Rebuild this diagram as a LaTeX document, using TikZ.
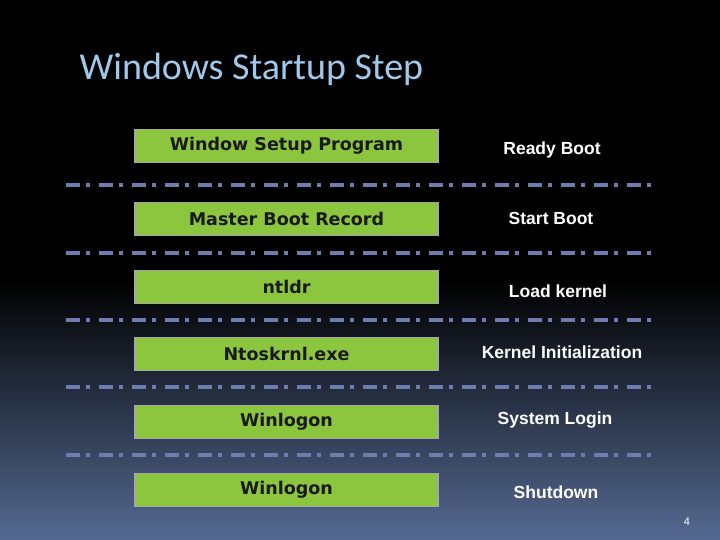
\documentclass[tikz,border=0pt]{standalone}
\usepackage{fontspec}
\setmainfont{DejaVu Sans}
\newfontfamily\arialf{Liberation Sans}
\newfontfamily\titlef{Carlito}
\begin{document}
\begin{tikzpicture}[x=1pt,y=-1pt,
  box/.style={draw=gray!70,line width=1.5pt,fill={rgb,255:red,140;green,198;blue,63},minimum width=303pt,minimum height=33pt,inner sep=0pt,font=\fontsize{17.5}{19}\selectfont\bfseries\color{black!90}},
  lab/.style={font=\arialf\fontsize{17.5}{19}\selectfont\bfseries,text=white},
  sep/.style={draw={rgb,255:red,110;green,125;blue,175},line width=4pt,dash pattern=on 14pt off 6pt on 4pt off 9pt}]
\shade[top color=black,bottom color=black,middle color=black] (0,0) rectangle (720,280);
\shade[top color=black,bottom color={rgb,255:red,85;green,105;blue,145}] (0,279) rectangle (720,540);
\useasboundingbox (0,0) rectangle (720,540);
\node[anchor=west,font=\titlef\fontsize{38}{40}\selectfont,text={rgb,255:red,160;green,200;blue,235}] (t) at (76,69) {Windows Startup Step};
\foreach \i/\y/\a/\b/\x/\ly in {1/146/Window Setup Program/Ready Boot/552/150,2/219/Master Boot Record/Start Boot/551/218,3/287/ntldr/Load kernel/558/291,4/354/Ntoskrnl.exe/Kernel Initialization/562/352,5/422/Winlogon/System Login/555/420,6/490/Winlogon/Shutdown/556/492}{
  \node[box] (b\i) at (286.5,\y) {\a};
  \node[lab] (l\i) at (\x,\ly) {\b};
}
\foreach \y/\n in {185/1,253/2,320/3,387/4,455/5}{
  \coordinate (s\n) at (66,\y); \coordinate (e\n) at (654,\y);
  \draw[sep] (s\n) -- (e\n);
}
\node[font=\arialf\fontsize{11}{12}\selectfont,text=white] (p) at (687,522) {4};
\end{tikzpicture}
\end{document}
